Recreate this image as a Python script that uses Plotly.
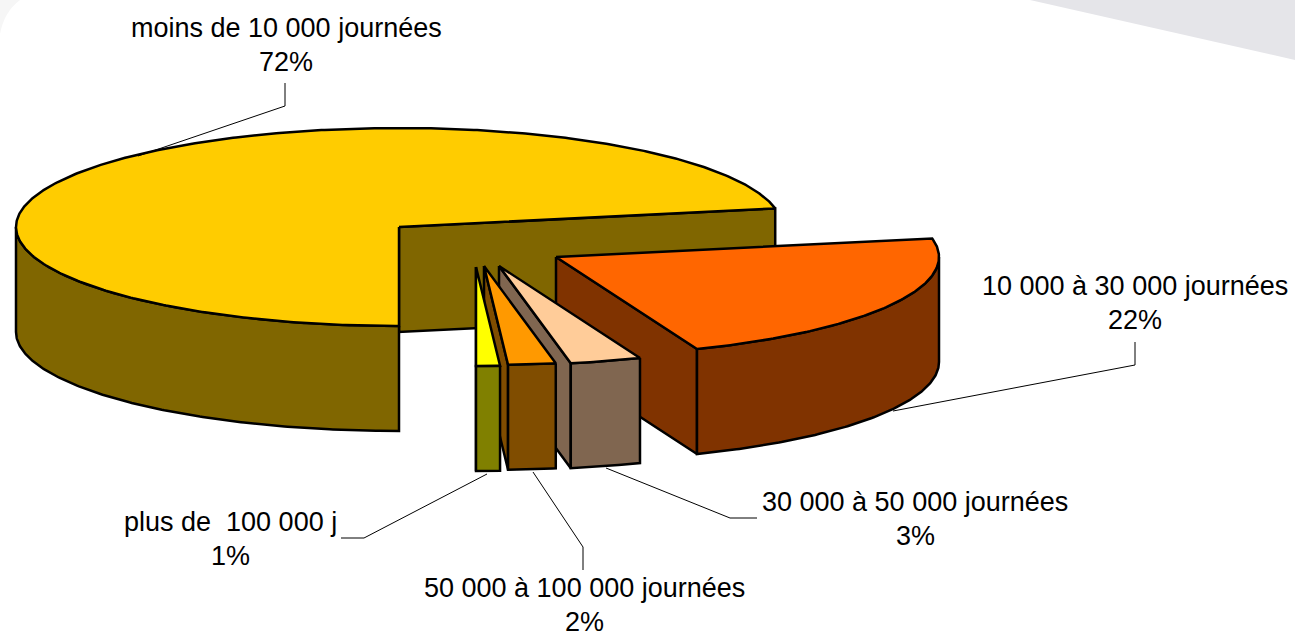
import numpy as np
import plotly.graph_objects as go

# Share of establishments by number of working days
categories = [
    "moins de 10 000 journées",
    "10 000 à 30 000 journées",
    "30 000 à 50 000 journées",
    "50 000 à 100 000 journées",
    "plus de  100 000 j",
]
shares = [72, 22, 3, 2, 1]

top_colors = ["#FFCC00", "#FF6600", "#FFCC99", "#FF9900", "#FFFF00"]
side_colors = ["#806600", "#803300", "#806650", "#804D00", "#808000"]

# Pie projection, in pixels
RX, RY, DEPTH = 383, 99, 105
START_ANGLE = 180
CENTRES = [(399, 227), (556, 257), (499, 266), (484, 266), (476, 267)]

# Label anchors (centre x, centre y of the two-line block) and leader paths
LABEL_POS = [(286, 45), (1135, 303), (915, 519), (584, 605), (230, 539)]
LINE_GAP = 17
LEADERS = [
    [(285, 83), (285, 106), (138, 156)],
    [(1135, 342), (1135, 365), (893, 411)],
    [(606, 468), (730, 518), (757, 518)],
    [(533, 472), (583, 547), (583, 570)],
    [(487, 474), (364, 538), (341, 538)],
]


def rim(centre, a0, a1, drop=0):
    """Points of the ellipse between two clockwise angles measured from 12 o'clock."""
    n = max(2, int(abs(a1 - a0) * 2) + 2)
    t = np.radians(np.linspace(a0, a1, n))
    return centre[0] + RX * np.sin(t), centre[1] - RY * np.cos(t) + drop


def front_span(a0, a1):
    """Part of a slice's arc that lies on the front half of the ellipse."""
    for lo, hi in ((90, 270), (450, 630)):
        s, e = max(a0, lo), min(a1, hi)
        if s < e:
            return s, e
    return None


def face(fig, xs, ys, color):
    fig.add_trace(go.Scatter(
        x=xs, y=ys, mode="lines", fill="toself", fillcolor=color,
        line=dict(color="#000000", width=2.5), hoverinfo="skip", showlegend=False,
    ))


fig = go.Figure()

# Pale page decoration behind the chart
fig.add_shape(type="path", path="M 1030 0 L 1295 60 L 1295 0 Z",
              fillcolor="#E5E5E9", line_width=0, layer="below")
fig.add_shape(type="path", path="M 0 34 Q 4 12 20 0 L 0 0 Z",
              fillcolor="#F6F6F6", line_width=0, layer="below")

# Slices go from back to front: cut wall, outer wall, then top
total = sum(shares)
angle = START_ANGLE
for value, centre, top, side in zip(shares, CENTRES, top_colors, side_colors):
    a0, a1 = angle, angle + value / total * 360
    angle = a1

    ex, ey = rim(centre, a1, a1)
    ex, ey = ex[0], ey[0]
    face(fig, [centre[0], ex, ex, centre[0], centre[0]],
         [centre[1], ey, ey + DEPTH, centre[1] + DEPTH, centre[1]], side)

    span = front_span(a0, a1)
    if span:
        ux, uy = rim(centre, *span)
        lx, ly = rim(centre, *span, drop=DEPTH)
        face(fig, np.r_[ux, lx[::-1], ux[0]], np.r_[uy, ly[::-1], uy[0]], side)

    ax, ay = rim(centre, a0, a1)
    face(fig, np.r_[centre[0], ax, centre[0]], np.r_[centre[1], ay, centre[1]], top)

# Leader lines
for path in LEADERS:
    fig.add_trace(go.Scatter(
        x=[p[0] for p in path], y=[p[1] for p in path], mode="lines",
        line=dict(color="#000000", width=1), hoverinfo="skip", showlegend=False,
    ))

# Category and percentage labels, one annotation per line for a tight line gap
label_font = dict(family="Liberation Sans, Arial, sans-serif", size=27, color="#000000")
for name, value, (lx, ly) in zip(categories, shares, LABEL_POS):
    fig.add_annotation(x=lx, y=ly - LINE_GAP, text=name, showarrow=False, font=label_font)
    fig.add_annotation(x=lx, y=ly + LINE_GAP, text=f"{value}%", showarrow=False, font=label_font)

fig.update_xaxes(range=[0, 1295], visible=False, fixedrange=True)
fig.update_yaxes(range=[637, 0], visible=False, fixedrange=True)
fig.update_layout(
    width=1295, height=637, margin=dict(l=0, r=0, t=0, b=0),
    paper_bgcolor="#FFFFFF", plot_bgcolor="#FFFFFF", showlegend=False,
)

fig.write_html("out.html", config={"displayModeBar": False})
